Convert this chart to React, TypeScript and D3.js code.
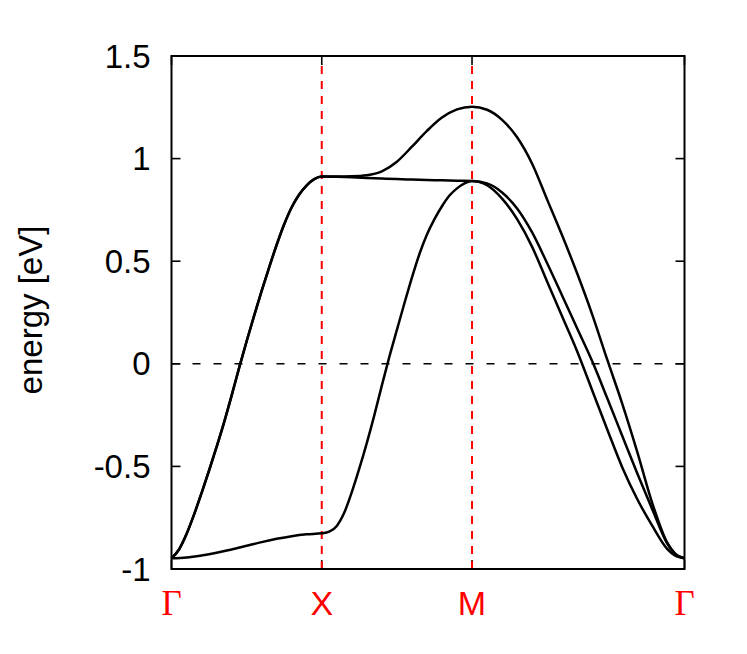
import React from "react";
import * as d3 from "d3";

// High-symmetry points along the path (units of pi/a)
const symLabels = ["Γ", "X", "M", "Γ"];
const symK = [0, 1, 2, 3.414];
const yTicks = [-1, -0.5, 0, 0.5, 1, 1.5];
const yTickLabels = ["-1", "-0.5", "0", "0.5", "1", "1.5"];

// Γ–X, lowest band
const kLowGX = [0, 0.1, 0.2, 0.3, 0.4, 0.5, 0.6, 0.7, 0.8, 0.9, 1.0];
const eLowGX = [-0.948, -0.944, -0.934, -0.921, -0.905, -0.887, -0.869, -0.853, -0.84, -0.831, -0.826];

// Γ–X, upper (doubly degenerate) band
const kGX = [0, 0.05, 0.1, 0.15, 0.2, 0.25, 0.3, 0.35, 0.4, 0.45, 0.5, 0.55, 0.6, 0.65, 0.7, 0.75, 0.8, 0.85, 0.9, 0.95, 1.0];
const eUpGX = [-0.948, -0.905, -0.83, -0.735, -0.63, -0.52, -0.405, -0.285, -0.155, -0.02, 0.11, 0.235, 0.355, 0.47, 0.58, 0.68, 0.763, 0.825, 0.87, 0.9, 0.913];

// X–M, band 1 (steep)
const kXM = [1.0, 1.05, 1.1, 1.15, 1.2, 1.25, 1.3, 1.35, 1.4, 1.45, 1.5, 1.55, 1.6, 1.65, 1.7, 1.75, 1.8, 1.85, 1.9, 1.95, 2.0];
const eBand1XM = [-0.826, -0.818, -0.79, -0.725, -0.625, -0.51, -0.385, -0.25, -0.105, 0.035, 0.165, 0.295, 0.42, 0.535, 0.63, 0.705, 0.768, 0.82, 0.855, 0.879, 0.891];

// X–M, bands 2 (flat) and 3 (top)
const kXMc = [1.0, 1.1, 1.2, 1.3, 1.4, 1.5, 1.6, 1.7, 1.8, 1.9, 2.0];
const eBand2XM = [0.913, 0.911, 0.909, 0.906, 0.903, 0.9, 0.898, 0.896, 0.894, 0.892, 0.891];
const eBand3XM = [0.913, 0.913, 0.914, 0.919, 0.938, 0.985, 1.058, 1.135, 1.2, 1.24, 1.253];

// M–Γ
const kMG = [2.0, 2.1, 2.2, 2.3, 2.4, 2.5, 2.6, 2.7, 2.8, 2.9, 3.0, 3.1, 3.2, 3.3, 3.35, 3.414];
const eBand1MG = [0.891, 0.87, 0.805, 0.705, 0.57, 0.4, 0.23, 0.06, -0.13, -0.32, -0.505, -0.66, -0.79, -0.903, -0.934, -0.948];
const eBand2MG = [0.891, 0.879, 0.835, 0.757, 0.64, 0.49, 0.332, 0.172, 0.012, -0.168, -0.352, -0.535, -0.71, -0.877, -0.925, -0.948];
const eBand3MG = [1.253, 1.238, 1.189, 1.104, 0.975, 0.8, 0.625, 0.44, 0.24, 0.02, -0.195, -0.43, -0.68, -0.873, -0.924, -0.948];

type P = [number, number];
const zipPts = (k: number[], e: number[]): P[] => k.map((v, i) => [v, e[i]] as P);
const joinSeg = (...segs: P[][]): P[] => {
  const out: P[] = [];
  segs.forEach((s, si) => s.forEach((p, i) => { if (si > 0 && i === 0) return; out.push(p); }));
  return out;
};

const bands: P[][] = [
  joinSeg(zipPts(kLowGX, eLowGX), zipPts(kXM, eBand1XM), zipPts(kMG, eBand1MG)),
  joinSeg(zipPts(kGX, eUpGX), zipPts(kXMc, eBand2XM), zipPts(kMG, eBand2MG)),
  joinSeg(zipPts(kGX, eUpGX), zipPts(kXMc, eBand3XM), zipPts(kMG, eBand3MG)),
];

const W = 747, H = 654;
const left = 171.5, right = 684.5, top = 56, bottom = 569;
const SANS = "'Liberation Sans', Arial, Helvetica, sans-serif";
const SERIF = "'Liberation Serif', 'Times New Roman', serif";
const FS = 33;

export default function App() {
  const x = d3.scaleLinear().domain([0, 3.414]).range([left, right]);
  const y = d3.scaleLinear().domain([-1, 1.5]).range([bottom, top]);
  const line = d3.line<P>().x((d) => x(d[0])).y((d) => y(d[1])).curve(d3.curveMonotoneX);
  const tick = 9;
  return (
    <svg width={W} height={H} style={{ position: "absolute", left: 0, top: 0, background: "#fff" }}>
      <rect x={0} y={0} width={W} height={H} fill="#fff" />
      {/* zero line */}
      <line x1={left} x2={right} y1={y(0)} y2={y(0)} stroke="#000" strokeWidth={1.6} strokeDasharray="8,13" />
      {/* y ticks */}
      {yTicks.map((t, i) => (
        <g key={"yt" + i}>
          <line x1={left} x2={left + tick} y1={y(t)} y2={y(t)} stroke="#000" strokeWidth={1.6} />
          <line x1={right} x2={right - tick} y1={y(t)} y2={y(t)} stroke="#000" strokeWidth={1.6} />
          <text x={left - 21} y={y(t) + 11.5} textAnchor="end" fontFamily={SANS} fontSize={FS} fill="#000">
            {yTickLabels[i]}
          </text>
        </g>
      ))}
      {/* x ticks */}
      {symK.map((k, i) => (
        <g key={"xt" + i}>
          <line x1={x(k)} x2={x(k)} y1={top} y2={top + tick} stroke="#000" strokeWidth={1.6} />
          <line x1={x(k)} x2={x(k)} y1={bottom} y2={bottom - tick} stroke="#000" strokeWidth={1.6} />
          <text
            x={x(k)}
            y={615}
            textAnchor="middle"
            fontFamily={symLabels[i] === "Γ" ? SERIF : SANS}
            fontSize={symLabels[i] === "Γ" ? 35 : 34}
            fill="#ff0000"
          >
            {symLabels[i]}
          </text>
        </g>
      ))}
      {/* vertical dashed red lines */}
      {symK.slice(1, 3).map((k, i) => (
        <line key={"vl" + i} x1={x(k)} x2={x(k)} y1={bottom} y2={top + 10} stroke="#ff0000" strokeWidth={2} strokeDasharray="8,7" />
      ))}
      {/* bands */}
      {bands.map((b, i) => (
        <path key={"b" + i} d={line(b) || ""} fill="none" stroke="#000" strokeWidth={2.5} strokeLinejoin="round" />
      ))}
      {/* border */}
      <rect x={left} y={top} width={right - left} height={bottom - top} fill="none" stroke="#000" strokeWidth={2} />
      {/* y label */}
      <text transform={`translate(42,310) rotate(-90)`} textAnchor="middle" fontFamily={SANS} fontSize={FS} fill="#000">
        energy [eV]
      </text>
    </svg>
  );
}
